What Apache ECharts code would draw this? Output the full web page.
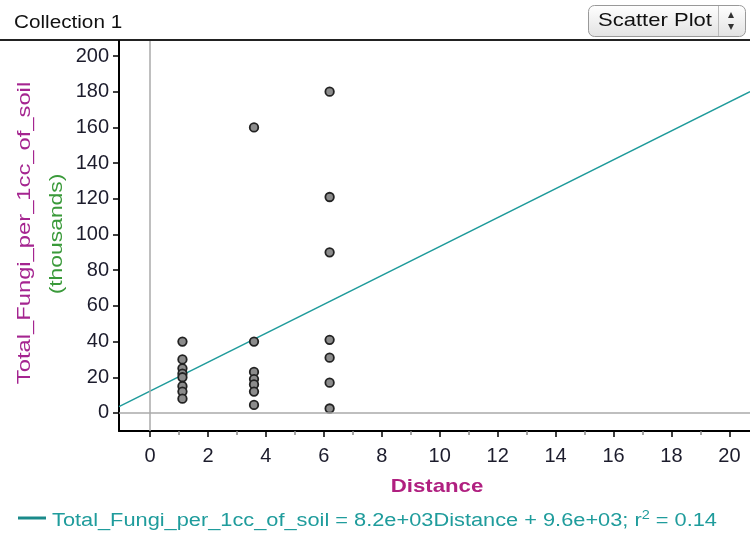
<!DOCTYPE html>
<html>
<head>
<meta charset="utf-8">
<script src="https://cdn.jsdelivr.net/npm/echarts@6/dist/echarts.min.js"></script>
<style>
  html, body { margin: 0; padding: 0; background: #fff; }
  #chart { width: 750px; height: 535px; }
</style>
</head>
<body>
<div id="chart"></div>
<script>
// values (Total_Fungi in thousands)
const distA = 1.12, distB = 3.59, distC = 6.2;
const fungiA = [40, 30, 25, 22, 20, 15, 12, 8];
const fungiB = [160, 40, 23, 19, 16, 12, 4.5];
const fungiC = [180, 121, 90, 41, 31, 17, 2.5];

// least squares line as drawn in the picture
const fitSlope = 8.1;
const fitIntercept = 12.2;

const xMin = -1.07, xMax = 20.71;
const yMin = -10.1, yMax = 208.4;
const xLabels = [0, 2, 4, 6, 8, 10, 12, 14, 16, 18, 20];
const xMinorTicks = [1, 3, 5, 7, 9, 11, 13, 15, 17, 19];
const yLabels = [0, 20, 40, 60, 80, 100, 120, 140, 160, 180, 200];

const points = [];
fungiA.forEach(v => points.push([distA, v]));
fungiB.forEach(v => points.push([distB, v]));
fungiC.forEach(v => points.push([distC, v]));

const fitLine = [
  [xMin, fitSlope * xMin + fitIntercept],
  [xMax, fitSlope * xMax + fitIntercept]
];

const font = '"Liberation Sans", Arial, sans-serif';
const chart = echarts.init(document.getElementById('chart'));

const option = {
  animation: false,
  grid: { left: 119, top: 41, right: 0, bottom: 104, containLabel: false },
  xAxis: [{
    type: 'value', min: xMin, max: xMax,
    axisLine: { onZero: false, lineStyle: { color: '#000', width: 2 } },
    axisTick: { customValues: xLabels, length: 6, lineStyle: { color: '#000', width: 1.5 } },
    axisLabel: { customValues: xLabels, margin: 15, color: '#1c1c2c', fontSize: 20, fontFamily: font },
    splitLine: { show: false }
  }, {
    // odd minor ticks
    type: 'value', min: xMin, max: xMax, position: 'bottom',
    axisLine: { show: false, onZero: false },
    axisTick: { customValues: xMinorTicks, length: 4, lineStyle: { color: '#888', width: 1.5 } },
    axisLabel: { show: false },
    splitLine: { show: false }
  }],
  yAxis: {
    type: 'value', min: yMin, max: yMax,
    axisLine: { onZero: false, lineStyle: { color: '#000', width: 2 } },
    axisTick: { customValues: yLabels, length: 6, lineStyle: { color: '#000', width: 1.5 } },
    axisLabel: { customValues: yLabels, margin: 10, color: '#1c1c2c', fontSize: 20, fontFamily: font },
    splitLine: { show: false }
  },
  series: [{
    type: 'line',
    data: fitLine,
    showSymbol: false,
    silent: true,
    lineStyle: { color: '#1f9b9b', width: 1.5 },
    markLine: {
      silent: true, symbol: 'none', label: { show: false },
      lineStyle: { color: '#aaa', width: 1.5, type: 'solid' },
      data: [{ xAxis: 0 }, { yAxis: 0 }]
    },
    z: 3
  }, {
    type: 'scatter',
    data: points,
    symbolSize: 8.5,
    itemStyle: { color: '#8c8c8c', borderColor: '#222', borderWidth: 1.8, opacity: 1 },
    z: 4
  }],
  graphic: [
    { type: 'text', x: 14, y: 23, scaleX: 1.15,
      style: { text: 'Collection 1', fill: '#111', font: '18px ' + font, verticalAlign: 'middle' } },
    { type: 'line', shape: { x1: 0, y1: 40, x2: 750, y2: 40 },
      style: { stroke: '#222', lineWidth: 2 } },
    { type: 'rect', shape: { x: 588.5, y: 5.5, width: 157, height: 31, r: 6 },
      style: {
        stroke: '#999', lineWidth: 1,
        fill: new echarts.graphic.LinearGradient(0, 0, 0, 1, [
          { offset: 0, color: '#ffffff' }, { offset: 1, color: '#e2e2e2' }
        ])
      } },
    { type: 'line', shape: { x1: 718.5, y1: 6, x2: 718.5, y2: 36 },
      style: { stroke: '#bbb', lineWidth: 1 } },
    { type: 'text', x: 598, y: 21, scaleX: 1.16,
      style: { text: 'Scatter Plot', fill: '#111', font: '19px ' + font, verticalAlign: 'middle' } },
    { type: 'polygon', shape: { points: [[728, 18], [734, 18], [731, 12]] }, style: { fill: '#333' } },
    { type: 'polygon', shape: { points: [[728, 24], [734, 24], [731, 30]] }, style: { fill: '#333' } },
    { type: 'text', x: 25, y: 233, rotation: Math.PI / 2, scaleX: 1.25,
      style: { text: 'Total_Fungi_per_1cc_of_soil', fill: '#a52590', font: '19px ' + font,
        align: 'center', verticalAlign: 'middle' } },
    { type: 'text', x: 57, y: 234, rotation: Math.PI / 2, scaleX: 1.27,
      style: { text: '(thousands)', fill: '#3a9a3a', font: '18px ' + font,
        align: 'center', verticalAlign: 'middle' } },
    { type: 'text', x: 437, y: 487, scaleX: 1.17,
      style: { text: 'Distance', fill: '#b02080', font: 'bold 19px ' + font,
        align: 'center', verticalAlign: 'middle' } },
    { type: 'line', shape: { x1: 18, y1: 518, x2: 46, y2: 518 },
      style: { stroke: '#1a8a8a', lineWidth: 3 } },
    { type: 'text', x: 52, y: 521, scaleX: 1.21,
      style: {
        text: 'Total_Fungi_per_1cc_of_soil = 8.2e+03Distance + 9.6e+03; r{sup|2} = 0.14',
        fill: '#1f9c9c', font: '18px ' + font, verticalAlign: 'middle',
        rich: { sup: { fontSize: 12, fill: '#1f9c9c', fontFamily: font, padding: [0, 0, 10, 0] } }
      } }
  ]
};

chart.setOption(option);
</script>
</body>
</html>
